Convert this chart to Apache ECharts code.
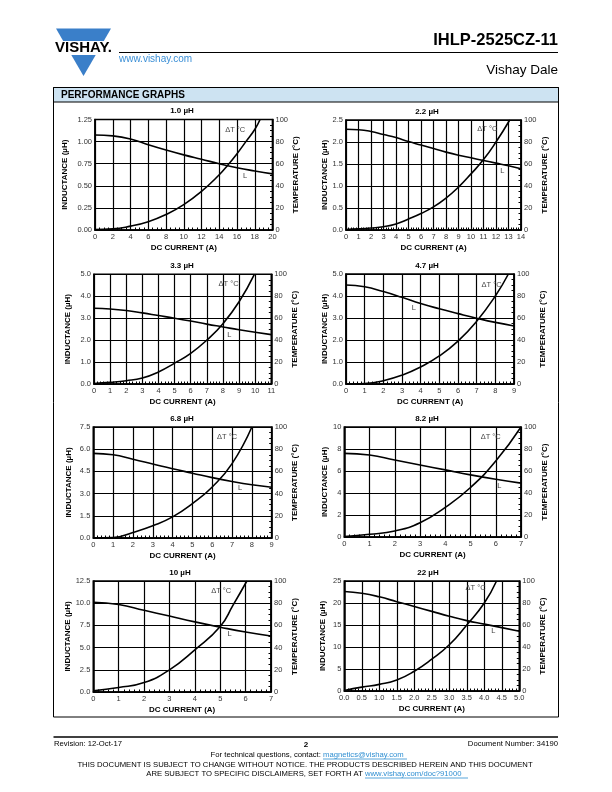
<!DOCTYPE html>
<html><head><meta charset="utf-8">
<script src="https://cdn.jsdelivr.net/npm/echarts@6/dist/echarts.min.js"></script>
<style>html,body{margin:0;padding:0;background:#fff;}#c{width:612px;height:792px;}</style>
</head><body><div id="c"></div>
<script>
// ---------- DATA ----------
const chartTitles = ['1.0 µH','2.2 µH','3.3 µH','4.7 µH','6.8 µH','8.2 µH','10 µH','22 µH'];
// x axis (DC current, A)
const xMaxes = [20,14,11,9,9,7,7,5];
const xSteps = [2,1,1,1,1,1,1,0.5];
const xDecimals = [0,0,0,0,0,0,0,1];
// left axis (inductance, µH)
const lMaxes = [1.25,2.5,5,5,7.5,10,12.5,25];
const lSteps = [0.25,0.5,1,1,1.5,2,2.5,5];
const lDecimals = [2,1,1,1,1,0,1,0];
// right axis (temperature rise, °C)
const tMax = 100, tStep = 20;

// 1.0 µH
const c1_Lx = [0,2,4,6,8,10,12,14,16,18,20];
const c1_L  = [1.075,1.065,1.03,0.965,0.905,0.85,0.8,0.75,0.705,0.668,0.635];
const c1_Tx = [0,2,4,6,8,10,12,14,15,16,17,18,18.6];
const c1_T  = [0.5,1,3.5,7.5,14,23,35,50,59,69,80,91,100];
// 2.2 µH
const c2_Lx = [0,1,2,3,4,5,6,7,8,9,10,11,12,13,14];
const c2_L  = [2.29,2.28,2.24,2.17,2.1,2.01,1.93,1.85,1.77,1.7,1.64,1.58,1.52,1.46,1.39];
const c2_Tx = [0,1,2,3,4,5,6,7,8,9,10,11,12,13.1];
const c2_T  = [0.5,1,1.8,3,5.5,10,15,21,29,39,51,64,80,100];
// 3.3 µH
const c3_Lx = [0,1,2,3,4,5,6,7,8,9,10,11];
const c3_L  = [3.45,3.42,3.35,3.24,3.12,3.0,2.87,2.73,2.6,2.47,2.36,2.25];
const c3_Tx = [0,1,2,3,4,5,6,7,8,9,9.95];
const c3_T  = [0.5,1.5,3,5.5,11,19,28,40,55,75,100];
// 4.7 µH
const c4_Lx = [0,1,2,3,4,5,6,7,8,9];
const c4_L  = [4.5,4.42,4.2,3.94,3.66,3.42,3.2,2.99,2.8,2.64];
const c4_Tx = [0,1,2,3,4,5,6,7,8,8.7];
const c4_T  = [0,0.5,3,8,15.5,25.5,39,57,80,100];
// 6.8 µH
const c5_Lx = [0,1,2,3,4,5,6,7,8,9];
const c5_L  = [5.72,5.62,5.32,5.0,4.68,4.38,4.08,3.82,3.6,3.43];
const c5_Tx = [0,1,2,3,4,5,6,7,8];
const c5_T  = [0,0.3,5,11,19,31,46,67,100];
// 8.2 µH
const c6_Lx = [0,1,2,3,4,5,6,7];
const c6_L  = [7.6,7.45,7.0,6.55,6.1,5.65,5.25,4.9];
const c6_Tx = [0,1,2,3,4,5,6,7];
const c6_T  = [0.5,2.5,5.5,13,27,45,69,100];
// 10 µH
const c7_Lx = [0,1,2,3,4,5,6,7];
const c7_L  = [10.1,9.85,9.2,8.55,7.9,7.3,6.75,6.3];
const c7_Tx = [0,1,2,3,4,5,5.5,6.05];
const c7_T  = [1,4,8.5,20,38,59,78,100];
// 22 µH
const c8_Lx = [0,0.5,1,1.5,2,2.5,3,3.5,4,4.5,5];
const c8_L  = [22.6,22.2,21.4,20.3,19.2,18.1,17.0,16.0,15.2,14.4,13.6];
const c8_Tx = [0,0.5,1,1.5,2,2.5,3,3.5,4,4.35];
const c8_T  = [0.5,3.5,6,10,18,29,42,60,80,100];

const LX = [c1_Lx,c2_Lx,c3_Lx,c4_Lx,c5_Lx,c6_Lx,c7_Lx,c8_Lx];
const LY = [c1_L,c2_L,c3_L,c4_L,c5_L,c6_L,c7_L,c8_L];
const TX = [c1_Tx,c2_Tx,c3_Tx,c4_Tx,c5_Tx,c6_Tx,c7_Tx,c8_Tx];
const TY = [c1_T,c2_T,c3_T,c4_T,c5_T,c6_T,c7_T,c8_T];

// annotation anchors in data units: [current, temperature] and [current, inductance]
const dtAnchor = [[15.8,91],[11.3,92],[8.35,91],[7.8,90],[6.75,91],[5.8,91],[5.04,91],[3.75,94]];
const lAnchor  = [[16.9,0.61],[12.5,1.34],[8.4,2.23],[3.64,3.48],[7.4,3.38],[6.14,4.67],[5.37,6.5],[4.26,13.6]];

// ---------- LAYOUT ----------
const FONT = '"Liberation Sans Narrow","Liberation Sans",Arial,sans-serif';
const FONTW = '"Liberation Sans",Arial,sans-serif';
const LAYOUT = [
  {left:95,   top:119.5, width:177.5, height:110.5, tx:182},
  {left:346,  top:120,   width:175,   height:110,   tx:427},
  {left:94,   top:274.3, width:177.3, height:109.7, tx:182},
  {left:346,  top:274,   width:168,   height:110,   tx:427},
  {left:93.3, top:427,   width:178.4, height:111,   tx:182},
  {left:344.3,top:427,   width:176.7, height:110,   tx:427},
  {left:93.3, top:581,   width:177.7, height:111,   tx:180},
  {left:344.3,top:581,   width:175,   height:110,   tx:428}
];
const leftGap  = [26,17.5,22,17.5,21,16,21.5,17.5];
const rightGap = [12.5,19,13.5,25,15,19,14,17.5];

const grids=[], xAxes=[], yAxes=[], series=[], graphics=[];
const labelStyle = {fontSize:7.5, color:'#333', fontFamily:FONT};
const nameStyle = {fontSize:8, fontWeight:'bold', color:'#000', fontFamily:FONT};

LAYOUT.forEach((g,i)=>{
  grids.push({left:g.left, top:g.top, width:g.width, height:g.height, show:true,
    borderColor:'#000', borderWidth:1.5, backgroundColor:'transparent', containLabel:false});
  xAxes.push({type:'value', gridIndex:i, min:0, max:xMaxes[i], interval:xSteps[i],
    axisLine:{show:true, onZero:false, lineStyle:{color:'#000', width:1.5}},
    axisTick:{show:true, inside:true, length:3, lineStyle:{color:'#000', width:1}},
    minorTick:{show:true, splitNumber: i===0?4:5, length:2.5, lineStyle:{color:'#000', width:1}},
    splitLine:{show:true, lineStyle:{color:'#000', width:1.2}},
    axisLabel:Object.assign({margin:3, formatter:v=>v.toFixed(xDecimals[i])}, labelStyle),
    name:'DC CURRENT (A)', nameLocation:'middle', nameGap:13.5, nameTextStyle:nameStyle});
  yAxes.push({type:'value', gridIndex:i, position:'left', min:0, max:lMaxes[i], interval:lSteps[i],
    axisLine:{show:true, onZero:false, lineStyle:{color:'#000', width:1.5}},
    axisTick:{show:false},
    splitLine:{show:true, lineStyle:{color:'#000', width:1.2}},
    axisLabel:Object.assign({margin:3, formatter:v=>v.toFixed(lDecimals[i])}, labelStyle),
    name:'INDUCTANCE (µH)', nameLocation:'middle', nameGap:leftGap[i], nameRotate:90, nameTextStyle:nameStyle});
  yAxes.push({type:'value', gridIndex:i, position:'right', min:0, max:tMax, interval:tStep,
    axisLine:{show:true, onZero:false, lineStyle:{color:'#000', width:1.5}},
    axisTick:{show:true, inside:true, length:3, lineStyle:{color:'#000', width:1}},
    minorTick:{show:true, splitNumber:4, length:2.5, lineStyle:{color:'#000', width:1}},
    splitLine:{show:false},
    axisLabel:Object.assign({margin:3, formatter:v=>String(v)}, labelStyle),
    name:'TEMPERATURE (°C)', nameLocation:'middle', nameGap:rightGap[i], nameRotate:90, nameTextStyle:nameStyle});
  const mp = (txt, c) => ({symbol:'circle', symbolSize:1, itemStyle:{color:'rgba(0,0,0,0)'},
    label:{show:true, position:'inside', formatter:txt, color:'#444', fontSize:7.5, fontFamily:FONT},
    data:[{coord:c}], silent:true, animation:false});
  series.push({type:'line', xAxisIndex:i, yAxisIndex:2*i, data:LX[i].map((x,k)=>[x,LY[i][k]]),
    smooth:0.5, symbol:'none', lineStyle:{color:'#000', width:1.6}, clip:true,
    markPoint:mp('L', lAnchor[i]), animation:false});
  series.push({type:'line', xAxisIndex:i, yAxisIndex:2*i+1, data:TX[i].map((x,k)=>[x,TY[i][k]]),
    smooth:0.5, symbol:'none', lineStyle:{color:'#000', width:1.6}, clip:true,
    markPoint:mp('ΔT °C', dtAnchor[i]), animation:false});
  graphics.push({type:'text', x:g.tx, y:g.top-8.5, style:{text:chartTitles[i], fill:'#000',
    font:'bold 8px '+FONT, align:'center', verticalAlign:'middle'}});
});

// ---------- PAGE DECORATION ----------
const BLUE = '#3a7fc9';
graphics.push(
  {type:'polygon', shape:{points:[[56,28.5],[111,28.5],[103.8,41],[63.2,41]]}, style:{fill:BLUE}},
  {type:'text', x:83.5, y:48, style:{text:'VISHAY.', fill:'#000', font:'bold 15px '+FONTW, align:'center', verticalAlign:'middle'}},
  {type:'polygon', shape:{points:[[71.3,55],[95.7,55],[83.5,76]]}, style:{fill:BLUE}},
  {type:'text', x:558, y:40.5, style:{text:'IHLP-2525CZ-11', fill:'#000', font:'bold 16.5px '+FONTW, align:'right', verticalAlign:'middle'}},
  {type:'line', shape:{x1:119, y1:52.5, x2:558, y2:52.5}, style:{stroke:'#000', lineWidth:1.2}},
  {type:'text', x:119, y:59, style:{text:'www.vishay.com', fill:'#3b8fd6', font:'10px '+FONTW, align:'left', verticalAlign:'middle'}},
  {type:'text', x:558, y:70.5, style:{text:'Vishay Dale', fill:'#000', font:'13.5px '+FONTW, align:'right', verticalAlign:'middle'}},
  {type:'rect', shape:{x:53.5, y:87.5, width:505, height:14.5}, style:{fill:'#cde3f2', stroke:'#000', lineWidth:1}},
  {type:'rect', shape:{x:53.5, y:87.5, width:505, height:629.5}, style:{fill:'none', stroke:'#000', lineWidth:1}},
  {type:'text', x:61, y:94.8, style:{text:'PERFORMANCE GRAPHS', fill:'#000', font:'bold 10px '+FONTW, align:'left', verticalAlign:'middle'}},
  {type:'line', shape:{x1:53.5, y1:737, x2:558, y2:737}, style:{stroke:'#000', lineWidth:1.5}},
  {type:'text', x:54, y:743.5, style:{text:'Revision: 12-Oct-17', fill:'#000', font:'7.7px '+FONTW, align:'left', verticalAlign:'middle'}},
  {type:'text', x:306, y:744.5, style:{text:'2', fill:'#000', font:'bold 8px '+FONTW, align:'center', verticalAlign:'middle'}},
  {type:'text', x:558, y:743.5, style:{text:'Document Number: 34190', fill:'#000', font:'7.7px '+FONTW, align:'right', verticalAlign:'middle'}},
  {type:'text', x:323, y:754.5, style:{text:'For technical questions, contact: ', fill:'#000', font:'7.7px '+FONTW, align:'right', verticalAlign:'middle'}},
  {type:'text', x:323, y:754.5, style:{text:'magnetics@vishay.com', fill:'#2f8fd2', font:'7.7px '+FONTW, align:'left', verticalAlign:'middle'}},
  {type:'line', shape:{x1:323, y1:759, x2:407, y2:759}, style:{stroke:'#2f8fd2', lineWidth:0.8}},
  {type:'text', x:305, y:765, style:{text:'THIS DOCUMENT IS SUBJECT TO CHANGE WITHOUT NOTICE. THE PRODUCTS DESCRIBED HEREIN AND THIS DOCUMENT', fill:'#000', font:'7.7px '+FONTW, align:'center', verticalAlign:'middle'}},
  {type:'text', x:365, y:773.5, style:{text:'ARE SUBJECT TO SPECIFIC DISCLAIMERS, SET FORTH AT ', fill:'#000', font:'7.7px '+FONTW, align:'right', verticalAlign:'middle'}},
  {type:'text', x:365, y:773.5, style:{text:'www.vishay.com/doc?91000', fill:'#2f8fd2', font:'7.7px '+FONTW, align:'left', verticalAlign:'middle'}},
  {type:'line', shape:{x1:365, y1:778, x2:468, y2:778}, style:{stroke:'#2f8fd2', lineWidth:0.8}}
);

const chart = echarts.init(document.getElementById('c'), null, {renderer:'canvas'});
chart.setOption({
  backgroundColor:'#fff', animation:false,
  grid:grids, xAxis:xAxes, yAxis:yAxes, series:series, graphic:graphics
});
</script>
</body></html>
